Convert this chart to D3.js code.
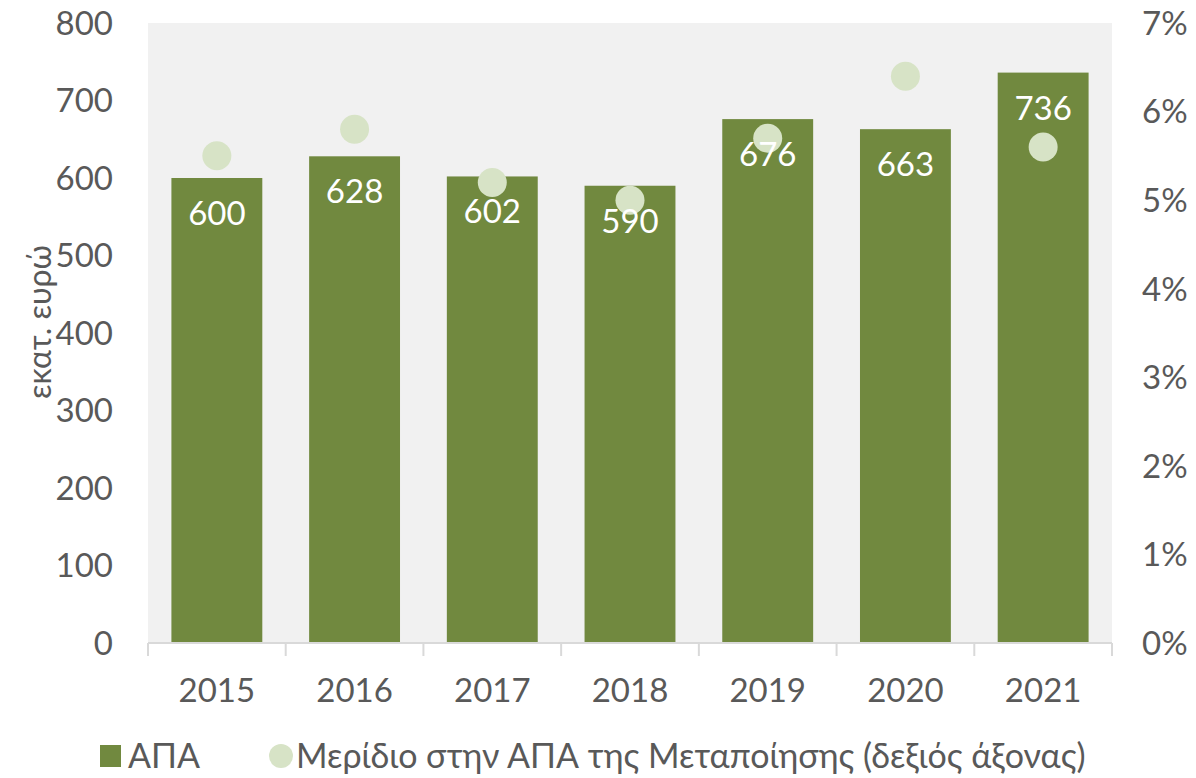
<!DOCTYPE html>
<html>
<head>
<meta charset="UTF-8">
<script src="https://d3js.org/d3.v7.min.js"></script>
<style>
  body { margin: 0; background: #fff; }
  text { font-family: Lato, "Open Sans", sans-serif; }
</style>
</head>
<body>
<div id="chart"></div>
<script>
// data
var years = ["2015", "2016", "2017", "2018", "2019", "2020", "2021"];
var apa = [600, 628, 602, 590, 676, 663, 736];
var share = [5.5, 5.8, 5.2, 5.0, 5.7, 6.4, 5.6];
var leftTicks = [0, 100, 200, 300, 400, 500, 600, 700, 800];
var rightTicks = [0, 1, 2, 3, 4, 5, 6, 7];

var width = 1196, height = 778;
var plot = {left: 148, right: 1112, top: 23, bottom: 643};
var barColor = "#71893f", dotColor = "#d7e3c6", textColor = "#595959";

var svg = d3.select("#chart").append("svg")
    .attr("width", width)
    .attr("height", height);

// plot background
svg.append("rect")
    .attr("x", plot.left).attr("y", plot.top)
    .attr("width", plot.right - plot.left)
    .attr("height", plot.bottom - plot.top)
    .attr("fill", "#f1f1f1");

var x = d3.scaleBand()
    .domain(years)
    .range([plot.left, plot.right])
    .paddingInner(0.34)
    .paddingOuter(0.17);

var y = d3.scaleLinear().domain([0, 800]).range([plot.bottom, plot.top]);
var y2 = d3.scaleLinear().domain([0, 7]).range([plot.bottom, plot.top]);

// bars
svg.append("g").selectAll("rect")
    .data(apa)
    .enter().append("rect")
    .attr("x", function(d, i) { return x(years[i]); })
    .attr("y", function(d) { return y(d); })
    .attr("width", x.bandwidth())
    .attr("height", function(d) { return y(0) - y(d); })
    .attr("fill", barColor);

// dots (share, right axis)
svg.append("g").selectAll("circle")
    .data(share)
    .enter().append("circle")
    .attr("cx", function(d, i) { return x(years[i]) + x.bandwidth() / 2; })
    .attr("cy", function(d) { return y2(d); })
    .attr("r", 14.5)
    .attr("fill", dotColor);

// value labels inside the bars
svg.append("g").selectAll("text")
    .data(apa)
    .enter().append("text")
    .attr("x", function(d, i) { return x(years[i]) + x.bandwidth() / 2; })
    .attr("y", function(d) { return y(d) + 47; })
    .attr("text-anchor", "middle")
    .attr("fill", "#fff")
    .style("font-size", "33px")
    .text(function(d) { return d; });

// bottom axis
var xAxis = svg.append("g")
    .attr("transform", "translate(0," + plot.bottom + ")");
xAxis.append("line")
    .attr("x1", plot.left).attr("x2", plot.right)
    .attr("stroke", "#d9d9d9").attr("stroke-width", 2);
var bounds = years.map(function(d) { return x(d) - x.step() * x.paddingInner() / 2; });
bounds.push(plot.right);
xAxis.selectAll(".tk")
    .data(bounds)
    .enter().append("line")
    .attr("x1", function(d) { return d; })
    .attr("x2", function(d) { return d; })
    .attr("y1", 0).attr("y2", 13)
    .attr("stroke", "#d9d9d9").attr("stroke-width", 2);
xAxis.selectAll("text")
    .data(years)
    .enter().append("text")
    .attr("x", function(d) { return x(d) + x.bandwidth() / 2; })
    .attr("y", 59)
    .attr("text-anchor", "middle")
    .attr("fill", textColor)
    .style("font-size", "33px")
    .text(function(d) { return d; });

// left axis
svg.append("g").selectAll("text")
    .data(leftTicks)
    .enter().append("text")
    .attr("x", 113)
    .attr("y", function(d) { return y(d); })
    .attr("dy", "0.36em")
    .attr("text-anchor", "end")
    .attr("fill", textColor)
    .style("font-size", "33px")
    .text(function(d) { return d; });

// right axis
svg.append("g").selectAll("text")
    .data(rightTicks)
    .enter().append("text")
    .attr("x", 1142)
    .attr("y", function(d) { return y2(d); })
    .attr("dy", "0.36em")
    .attr("text-anchor", "start")
    .attr("fill", textColor)
    .style("font-size", "33px")
    .text(function(d) { return d + "%"; });

// y axis title
svg.append("text")
    .attr("transform", "translate(51,322) rotate(-90)")
    .attr("text-anchor", "middle")
    .attr("fill", textColor)
    .style("font-size", "32px")
    .text("εκατ. ευρώ");

// legend
var legend = svg.append("g");
legend.append("rect")
    .attr("x", 100).attr("y", 745)
    .attr("width", 21).attr("height", 22)
    .attr("fill", barColor);
legend.append("text")
    .attr("x", 128).attr("y", 768)
    .attr("fill", textColor)
    .style("font-size", "34px")
    .text("ΑΠΑ");
legend.append("circle")
    .attr("cx", 281).attr("cy", 756)
    .attr("r", 12)
    .attr("fill", dotColor);
legend.append("text")
    .attr("x", 296).attr("y", 768)
    .attr("fill", textColor)
    .style("font-size", "34px")
    .text("Μερίδιο στην ΑΠΑ της Μεταποίησης (δεξιός άξονας)");
</script>
</body>
</html>
